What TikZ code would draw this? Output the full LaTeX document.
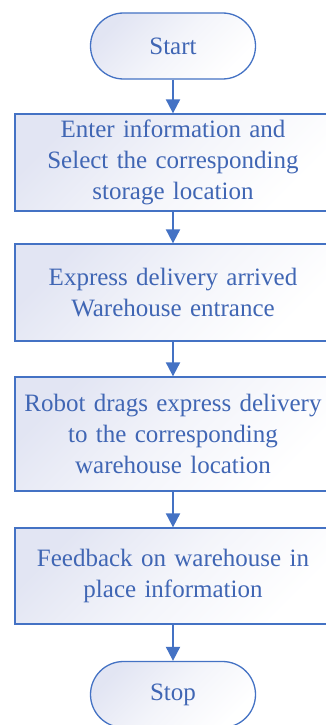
\documentclass[tikz,border=0pt]{standalone}
\usepackage{fontspec}
\setmainfont{Liberation Serif}
\usetikzlibrary{arrows.meta}
\definecolor{flowblue}{HTML}{4472C4}
\definecolor{flowtext}{HTML}{4066B4}
\definecolor{flowtint}{HTML}{E2E5F3}
\begin{document}
\begin{tikzpicture}[x=1pt,y=-1pt,
  base/.style={draw=flowblue, line width=1.3pt, text=flowtext,
    font=\fontsize{25}{31}\selectfont, align=center, inner sep=0pt,
    top color=flowtint, bottom color=white, middle color=white!60!flowtint, shading angle=45},
  terminal/.style={base, minimum width=165pt, minimum height=66pt, rounded corners=33pt},
  process/.style={base, text width=316pt},
  flow/.style={-{Triangle[length=14pt,width=14pt]}, draw=flowblue, line width=2pt}]
\useasboundingbox (0,0) rectangle (326,725);
\clip (0,0) rectangle (326,725);

% process boxes run past the right page edge and are clipped there
\node[terminal] (start) at (173,46) {Start};
\node[process, minimum height=97pt] (enter) at (173,162.5)
  {Enter information and\\Select the corresponding\\storage location};
\node[process, minimum height=97pt] (arrive) at (173,292.5)
  {Express delivery arrived\\Warehouse entrance};
\node[process, minimum height=114pt] (drag) at (173,434)
  {Robot drags express delivery\\to the corresponding\\warehouse location};
\node[process, minimum height=96pt] (feedback) at (173,576)
  {Feedback on warehouse in\\place information};
\node[terminal] (stop) at (173,694.5) {Stop};

\draw[flow] (start) -- (enter);
\draw[flow] (enter) -- (arrive);
\draw[flow] (arrive) -- (drag);
\draw[flow] (drag) -- (feedback);
\draw[flow] (feedback) -- (stop);
\end{tikzpicture}
\end{document}
